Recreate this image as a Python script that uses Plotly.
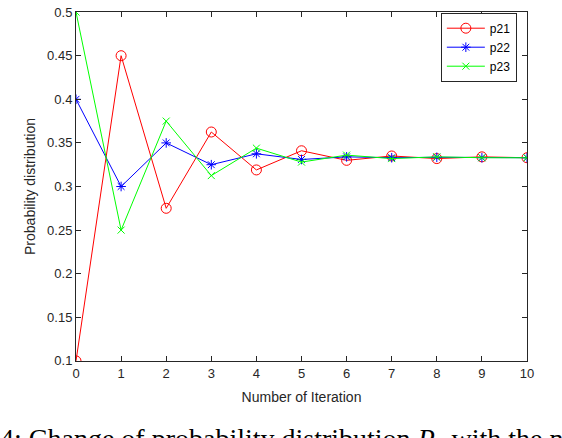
import plotly.graph_objects as go

# values
iterations = list(range(11))
p21 = [0.1, 0.45, 0.275, 0.3625, 0.319, 0.341, 0.330, 0.335, 0.332, 0.334, 0.333]
p22 = [0.4, 0.3, 0.35, 0.325, 0.3375, 0.331, 0.334, 0.333, 0.3335, 0.333, 0.333]
p23 = [0.5, 0.25, 0.375, 0.3125, 0.344, 0.328, 0.336, 0.332, 0.334, 0.333, 0.333]
y_ticks = [0.1, 0.15, 0.2, 0.25, 0.3, 0.35, 0.4, 0.45, 0.5]
y_labels = ["0.1", "0.15", "0.2", "0.25", "0.3", "0.35", "0.4", "0.45", "0.5"]

axis_col = "#262626"
font_sans = "Liberation Sans, Arial, sans-serif"

fig = go.Figure()
fig.add_trace(go.Scatter(x=iterations, y=p21, name="p21", mode="lines+markers",
                         line=dict(color="#ff0000", width=1),
                         marker=dict(symbol="circle-open", size=10, color="#ff0000", line=dict(width=1))))
fig.add_trace(go.Scatter(x=iterations, y=p22, name="p22", mode="lines+markers",
                         line=dict(color="#0000ff", width=1),
                         marker=dict(symbol="asterisk-open", size=8, color="#0000ff", line=dict(width=1))))
fig.add_trace(go.Scatter(x=iterations, y=p23, name="p23", mode="lines+markers",
                         line=dict(color="#00ff00", width=1),
                         marker=dict(symbol="x-thin-open", size=7, color="#00ff00", line=dict(width=1))))

fig.update_xaxes(range=[-0.0001, 10.0001], tickvals=iterations, ticks="inside", ticklen=5,
                 tickcolor=axis_col, showline=True, linecolor=axis_col, linewidth=1,
                 mirror="ticks", showgrid=False, zeroline=False, ticklabeloverflow="allow",
                 title=dict(text="Number of Iteration", standoff=12,
                            font=dict(size=14, color=axis_col, family=font_sans)),
                 tickfont=dict(size=13, color=axis_col, family=font_sans))
fig.update_yaxes(range=[0.0999, 0.5001], tickvals=y_ticks, ticktext=y_labels, ticks="inside", ticklen=5,
                 tickcolor=axis_col, showline=True, linecolor=axis_col, linewidth=1,
                 mirror="ticks", showgrid=False, zeroline=False, ticklabeloverflow="allow",
                 title=dict(text="Probability distribution", standoff=8,
                            font=dict(size=14, color=axis_col, family=font_sans)),
                 tickfont=dict(size=13, color=axis_col, family=font_sans))

fig.add_annotation(text="4: Change of probability distribution <i>P</i><sub>2</sub> with the n",
                   xref="paper", yref="paper", x=-0.172, y=-0.172, xanchor="left", yanchor="top",
                   showarrow=False, font=dict(size=28, color="black", family="Liberation Serif, Times New Roman, serif"))

fig.update_layout(width=562, height=438, margin=dict(l=76, r=35, t=5, b=77),
                  paper_bgcolor="white", plot_bgcolor="white",
                  font=dict(family=font_sans, color=axis_col),
                  legend=dict(x=0.809, y=0.998, xanchor="left", yanchor="top",
                              bgcolor="white", bordercolor=axis_col, borderwidth=1,
                              font=dict(size=12, color="black", family=font_sans),
                              tracegroupgap=0, itemwidth=38))

# drop the browser's default body margin so the figure sits at the page corner
fig.write_html("out.html", config={"displayModeBar": False},
               post_script="document.body.style.margin='0px';")
